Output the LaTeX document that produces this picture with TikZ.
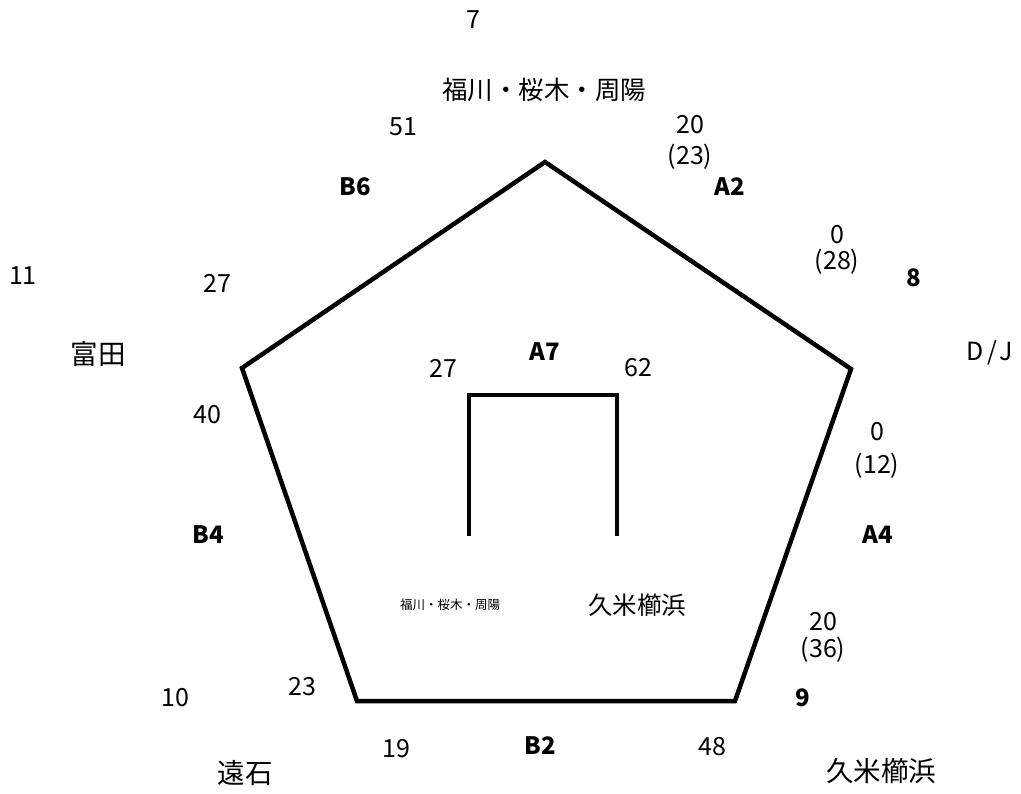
\documentclass[tikz,border=0pt]{standalone}
\usepackage{fontspec}
\setmainfont{Noto Sans CJK JP}
\begin{document}
\begin{tikzpicture}[x=1pt,y=-1pt,
  lbl/.style={inner sep=0pt,font=\fontsize{25}{28}\selectfont},
  blbl/.style={inner sep=0pt,font=\fontsize{24}{28}\selectfont\bfseries},
  jp/.style={inner sep=0pt,font=\fontsize{27.5}{30}\selectfont},
  jptop/.style={inner sep=0pt,font=\fontsize{25.5}{28}\selectfont},
  jpin/.style={inner sep=0pt,font=\fontsize{24.5}{28}\selectfont},
  jps/.style={inner sep=0pt,font=\fontsize{12.5}{14}\selectfont},
  edge/.style={line width=4.5pt,line join=miter}]
\useasboundingbox (0,0) rectangle (1021,794);
% pentagon
\coordinate (T) at (545,162);
\coordinate (R) at (851,369);
\coordinate (BR) at (735,701);
\coordinate (BL) at (357,701);
\coordinate (L) at (242,368);
\draw[edge] (T) -- (R) -- (BR) -- (BL) -- (L) -- cycle;
% inner bracket
\coordinate (k1) at (469,536);
\coordinate (k2) at (469,395);
\coordinate (k3) at (617,395);
\coordinate (k4) at (617,536);
\draw[line width=4.2pt,line join=miter] (k1) -- (k2) -- (k3) -- (k4);
% labels
\node[lbl] (n7) at (473,20) {7};
\node[jptop] (top) at (544,90) {福川・桜木・周陽};
\node[lbl] (n51) at (403,127) {51};
\node[lbl] (n20a) at (690,125) {20};
\node[lbl] (n23a) at (690,157) {(23)};
\node[blbl] (B6) at (355,187) {B6};
\node[blbl] (A2) at (730,187) {A2};
\node[lbl] (n0a) at (837,235) {0};
\node[lbl] (n28) at (837,262) {(28)};
\node[blbl] (e8) at (914,278) {8};
\node[lbl] (n11) at (23,276) {11};
\node[lbl] (n27a) at (217,283) {27};
\node[jp] (tomita) at (98,354) {富田};
\node[blbl] (A7) at (545,352) {A7};
\node[lbl] (DJ) at (990,353) {D\hspace{3pt}/\hspace{3pt}J};
\node[lbl] (n27b) at (443,368) {27};
\node[lbl] (n62) at (638,368) {62};
\node[lbl] (n40) at (207,415) {40};
\node[lbl] (n0b) at (877,432) {0};
\node[lbl] (n12) at (877,466) {(12)};
\node[blbl] (B4) at (208,535) {B4};
\node[blbl] (A4) at (878,535) {A4};
\node[jps] (insmall) at (450,605) {福川・桜木・周陽};
\node[jpin] (inkume) at (637,605) {久米櫛浜};
\node[lbl] (n20b) at (823,622) {20};
\node[lbl] (n36) at (823,650) {(36)};
\node[lbl] (n10) at (175,698) {10};
\node[lbl] (n23b) at (302,687) {23};
\node[blbl] (e9) at (803,698) {9};
\node[lbl] (n19) at (396,749) {19};
\node[blbl] (B2) at (540,746) {B2};
\node[lbl] (n48) at (712,747) {48};
\node[jp] (toishi) at (245,773) {遠石};
\node[jp] (kume) at (881,771) {久米櫛浜};
\end{tikzpicture}
\end{document}
